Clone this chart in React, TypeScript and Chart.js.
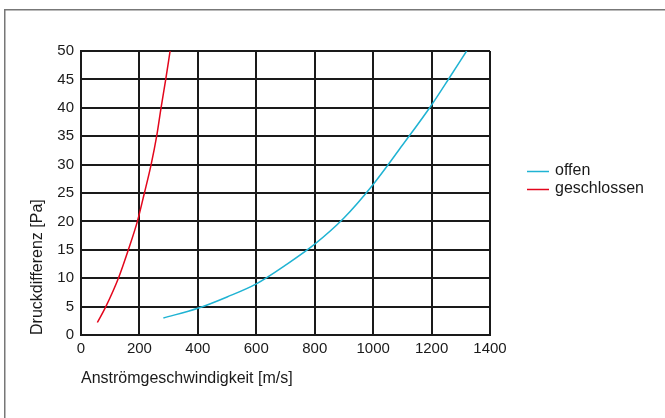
import React, { useEffect, useRef } from "react";
import { Chart, registerables } from "chart.js";

Chart.register(...registerables);

// Data
const offenX = [282, 400, 500, 600, 700, 800, 900, 1000, 1100, 1200, 1260, 1320];
const offenY = [3.0, 4.7, 6.7, 9.0, 12.3, 16.0, 20.6, 26.5, 33.4, 40.5, 45.2, 50];

const geschlossenX = [56, 85, 128, 162, 193, 217, 240, 259, 274, 290, 305];
const geschlossenY = [2.2, 5, 10, 15, 20, 25, 30, 35, 40, 45, 50];

const seriesLabels = ["offen", "geschlossen"];
const seriesColors = ["#1fb3d3", "#e3061c"];

const xTitle = "Anströmgeschwindigkeit [m/s]";
const yTitle = "Druckdifferenz [Pa]";

const FONT = "'Liberation Sans', Arial, Helvetica, sans-serif";
const TEXT = "#1a1a1a";

const toPoints = (xs: number[], ys: number[]) => xs.map((x, i) => ({ x, y: ys[i] }));

const framePlugin = {
  id: "frame",
  beforeDraw(chart: any) {
    const ctx = chart.ctx;
    ctx.save();
    ctx.fillStyle = "#ffffff";
    ctx.fillRect(0, 0, chart.width, chart.height);
    ctx.strokeStyle = "#777777";
    ctx.lineWidth = 1.5;
    ctx.strokeRect(4.75, 9.75, chart.width + 20, chart.height + 20);
    ctx.restore();
  },
};

const legendPlugin = {
  id: "customLegend",
  afterDraw(chart: any) {
    const ctx = chart.ctx;
    const area = chart.chartArea;
    ctx.save();
    ctx.font = `16px ${FONT}`;
    ctx.textBaseline = "middle";
    ctx.textAlign = "left";
    chart.data.datasets.forEach((ds: any, i: number) => {
      const y = 171 + i * 18;
      const x0 = area.right + 37;
      ctx.strokeStyle = ds.borderColor;
      ctx.lineWidth = 1.5;
      ctx.beginPath();
      ctx.moveTo(x0, y + 0.5);
      ctx.lineTo(x0 + 22, y + 0.5);
      ctx.stroke();
      ctx.fillStyle = TEXT;
      ctx.fillText(ds.label, x0 + 28, y);
    });
    ctx.restore();
  },
};

export default function App() {
  const ref = useRef<HTMLCanvasElement | null>(null);

  useEffect(() => {
    if (!ref.current) return;
    const chart = new Chart(ref.current, {
      type: "scatter",
      data: {
        datasets: [
          {
            label: seriesLabels[0],
            data: toPoints(offenX, offenY),
            showLine: true,
            borderColor: seriesColors[0],
            backgroundColor: seriesColors[0],
            borderWidth: 1.5,
            pointRadius: 0,
            cubicInterpolationMode: "monotone",
          },
          {
            label: seriesLabels[1],
            data: toPoints(geschlossenX, geschlossenY),
            showLine: true,
            borderColor: seriesColors[1],
            backgroundColor: seriesColors[1],
            borderWidth: 1.5,
            pointRadius: 0,
            cubicInterpolationMode: "monotone",
          },
        ],
      },
      options: {
        responsive: false,
        animation: false,
        devicePixelRatio: 1,
        layout: { padding: { left: 0, top: 51, right: 175, bottom: 0 } },
        plugins: {
          legend: { display: false },
          tooltip: { enabled: false },
        },
        scales: {
          x: {
            type: "linear",
            min: 0,
            max: 1400,
            ticks: {
              stepSize: 200,
              color: TEXT,
              font: { size: 15, family: FONT },
              padding: 5,
              callback: (v: any) => String(v),
            },
            grid: { color: "#1a1a1a", lineWidth: 2, drawTicks: false },
            border: { color: "#1a1a1a", width: 2 },
            title: {
              display: true,
              text: xTitle,
              align: "start",
              color: TEXT,
              font: { size: 16, family: FONT },
              padding: { top: 0, bottom: 30 },
            },
            afterFit: (s: any) => {
              s.height = 83;
            },
          },
          y: {
            type: "linear",
            min: 0,
            max: 50,
            ticks: {
              stepSize: 5,
              color: TEXT,
              font: { size: 15, family: FONT },
              padding: 7,
              callback: (v: any) => String(v),
            },
            grid: { color: "#1a1a1a", lineWidth: 2, drawTicks: false },
            border: { color: "#1a1a1a", width: 2 },
            title: {
              display: true,
              text: yTitle,
              align: "start",
              color: TEXT,
              font: { size: 16, family: FONT },
              padding: { top: 28, bottom: 0 },
            },
            afterFit: (s: any) => {
              s.width = 81;
            },
          },
        },
      } as any,
      plugins: [framePlugin, legendPlugin],
    });
    return () => chart.destroy();
  }, []);

  return (
    <div style={{ position: "fixed", left: 0, top: 0, width: 665, height: 418, background: "#fff" }}>
      <canvas ref={ref} width={665} height={418} style={{ display: "block", width: 665, height: 418 }} />
    </div>
  );
}
